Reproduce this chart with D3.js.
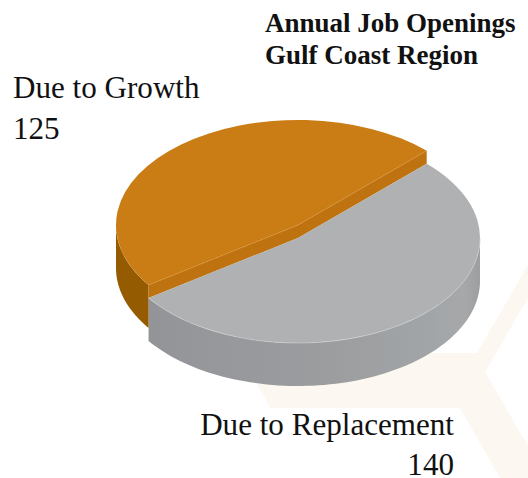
<!DOCTYPE html>
<html>
<head>
<meta charset="utf-8">
<script src="https://cdn.jsdelivr.net/npm/d3@7"></script>
<style>
html, body { margin: 0; padding: 0; background: #fff; }
svg { display: block; }
text { font-family: "Liberation Serif", serif; fill: #111; }
</style>
</head>
<body>
<div id="chart"></div>
<script>
var categories = ["Due to Replacement", "Due to Growth"];
var values = [140, 125];
var titleLines = ["Annual Job Openings", "Gulf Coast Region"];

var svgWidth = 528;
var svgHeight = 478;

var cx = 298;
var cy = 238;
var rx = 182;
var ry = 105;
var depth = 43;
var lift = [0, -13]; // growth slice is pulled up from the pie

var topColor = ["#b0b1b3", "#ca7c15"];
var cutColor = "#bf7210";

var svg = d3.select("#chart")
    .append("svg")
    .attr("width", svgWidth)
    .attr("height", svgHeight);

// gray wall shading, darker on the left
var grayWall = svg.append("defs").append("linearGradient")
    .attr("id", "grayWall")
    .attr("gradientUnits", "userSpaceOnUse")
    .attr("x1", 148).attr("x2", 480).attr("y1", 0).attr("y2", 0);
[[0, "#939498"], [0.3, "#98999d"], [0.55, "#9b9d9f"], [0.85, "#a2a5a7"], [0.95, "#a6a8aa"], [1, "#9c9ea0"]]
    .forEach(function(d) {
        grayWall.append("stop").attr("offset", d[0]).attr("stop-color", d[1]);
    });

var wallFill = ["url(#grayWall)", "#955b00"];

// faint logo behind the chart
svg.append("path")
    .attr("d", "M241,353 H477 L528,265 V298 L485,372 L528,446 V478 H500 L460,408 H270 Z")
    .attr("fill", "#fcf7f1");

var pie = d3.pie()
    .sort(null)
    .startAngle(Math.PI / 4)
    .endAngle(Math.PI / 4 + 2 * Math.PI);

var slices = pie(values);

function ex(a) { return cx + rx * Math.sin(a); }
function ey(a, i) { return cy + lift[i] - ry * Math.cos(a); }

var arc = d3.arc().innerRadius(0).outerRadius(rx);

// angles of the part of a slice's rim that faces the viewer
function frontAngles(s) {
    var from = Math.max(s.startAngle, Math.PI / 2);
    var to = Math.min(s.endAngle, 3 * Math.PI / 2);
    return d3.range(0, 81).map(j => from + (to - from) * j / 80);
}

// outer walls
slices.forEach(function(s, i) {
    var area = d3.area()
        .x(d => ex(d))
        .y0(d => ey(d, i))
        .y1(d => ey(d, i) + depth);
    svg.append("path")
        .attr("d", area(frontAngles(s)))
        .attr("fill", wallFill[i]);
});

// cut face of the lifted slice
var g = slices[1];
svg.append("path")
    .attr("d", "M" + ex(g.startAngle) + "," + ey(g.startAngle, 1)
        + "L" + cx + "," + (cy + lift[1])
        + "L" + ex(g.endAngle) + "," + ey(g.endAngle, 1)
        + "v" + (-lift[1])
        + "L" + cx + "," + cy
        + "L" + ex(g.startAngle) + "," + ey(g.startAngle, 0) + "Z")
    .attr("fill", cutColor);

// top faces
slices.forEach(function(s, i) {
    svg.append("path")
        .attr("transform", `translate(${cx}, ${cy + lift[i]}) scale(1, ${ry / rx})`)
        .attr("d", arc(s))
        .attr("fill", topColor[i]);
});

// thin highlights on the edges of the top faces
var rimLine = d3.line().x(d => ex(d)).y(d => ey(d, 0));
svg.append("path")
    .attr("d", rimLine(frontAngles(slices[0])))
    .attr("fill", "none")
    .attr("stroke", "#c9cacb")
    .attr("stroke-width", 0.7);
svg.append("path")
    .attr("d", "M" + ex(g.startAngle) + "," + ey(g.startAngle, 1)
        + "L" + cx + "," + (cy + lift[1])
        + "L" + ex(g.endAngle) + "," + ey(g.endAngle, 1))
    .attr("fill", "none")
    .attr("stroke", "#d8963c")
    .attr("stroke-width", 0.5);

// labels
var title = svg.append("g").attr("font-weight", "bold").attr("font-size", 27);
titleLines.forEach(function(t, i) {
    title.append("text").attr("x", 265).attr("y", 32 + i * 32).text(t);
});

svg.append("text").attr("x", 13).attr("y", 98).attr("font-size", 31.1).text(categories[1]);
svg.append("text").attr("x", 13).attr("y", 139).attr("font-size", 31.1).text(values[1]);
svg.append("text").attr("x", 454).attr("y", 435).attr("font-size", 31.1).attr("text-anchor", "end").text(categories[0]);
svg.append("text").attr("x", 454).attr("y", 475).attr("font-size", 31.1).attr("text-anchor", "end").text(values[0]);
</script>
</body>
</html>
